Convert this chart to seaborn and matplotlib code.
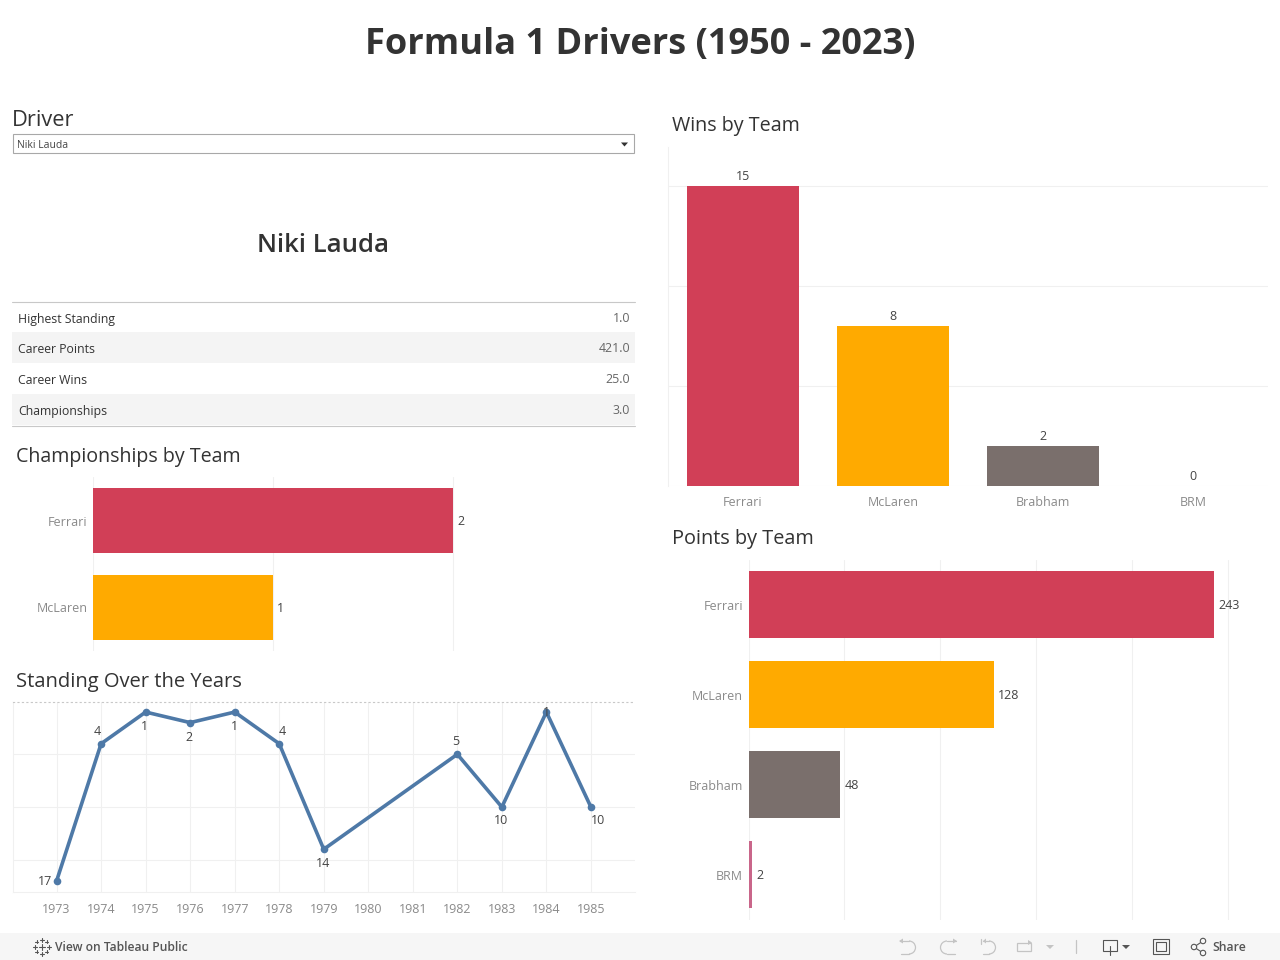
# Formula 1 drivers dashboard, one driver selected
import matplotlib
matplotlib.use('Agg')
import matplotlib.pyplot as plt
from matplotlib.patches import Rectangle, Circle, Polygon, Arc
import seaborn as sns
import pandas as pd

# data
teams = ['Ferrari', 'McLaren', 'Brabham', 'BRM']
wins = [15, 8, 2, 0]
points = [243, 128, 48, 2]
champ_teams = ['Ferrari', 'McLaren']
champs = [2, 1]
years = [1973, 1974, 1975, 1976, 1977, 1978, 1979, 1982, 1983, 1984, 1985]
standing = [17, 4, 1, 2, 1, 4, 14, 5, 10, 1, 10]
all_years = list(range(1973, 1986))
stat_names = ['Highest Standing', 'Career Points', 'Career Wins', 'Championships']
stat_values = ['1.0', '421.0', '25.0', '3.0']
driver = 'Niki Lauda'

team_colors = {'Ferrari': '#d13f57', 'McLaren': '#ffaa00', 'Brabham': '#7a6f6c', 'BRM': '#c9668a'}
GRID = '#f0f0f0'
DARK = '#333333'
LABEL = '#444444'
TICK = '#8a8a8a'

sns.set_theme(style='white')
plt.rcParams['font.family'] = ['Open Sans', 'DejaVu Sans']
plt.rcParams['axes.linewidth'] = 0.8

fig = plt.figure(figsize=(12.8, 9.6), dpi=100)


def px_axes(left, top, right, bottom):
    # axes placed by pixel box of the 1280x960 canvas
    return fig.add_axes([left / 1280, 1 - bottom / 960, (right - left) / 1280, (bottom - top) / 960])


def clean(ax):
    for s in ax.spines.values():
        s.set_visible(False)
    ax.set_xlabel('')
    ax.set_ylabel('')
    ax.tick_params(length=0)
    ax.set_axisbelow(True)


# overlay for the page furniture, pixel coordinates
bg = fig.add_axes([0, 0, 1, 1], zorder=0)
bg.set_xlim(0, 1280)
bg.set_ylim(960, 0)
bg.axis('off')

bg.text(640, 45, 'Formula 1 Drivers (1950 - 2023)', ha='center', va='center',
        fontsize=26, fontweight='bold', color=DARK)
bg.text(12, 121, 'Driver', ha='left', va='center', fontsize=15.7, color=DARK)
bg.add_patch(Rectangle((13, 134), 620.5, 19, fc='white', ec='#a8a8a8', lw=0.8))
bg.text(17, 145, driver, ha='left', va='center', fontsize=7.5, color=LABEL)
bg.add_patch(Polygon([(621, 142.5), (628, 142.5), (624.5, 146.5)], fc='#333333', ec='none'))
bg.text(323, 246, driver, ha='center', va='center', fontsize=18.5, fontweight='semibold', color=DARK)

# stats table
row_tops = [302, 332, 363, 394]
row_h = 31
for i, name in enumerate(stat_names):
    if i % 2 == 1:
        bg.add_patch(Rectangle((12, row_tops[i]), 623, row_h, fc='#f4f4f4', ec='none'))
    bg.text(18, row_tops[i] + 21, name, ha='left', va='baseline', fontsize=8.8, color=DARK)
    bg.text(630, row_tops[i] + 20, stat_values[i], ha='right', va='baseline', fontsize=8.9, color='#666666')
bg.plot([12, 635], [301.5, 301.5], color='#c8c8c8', lw=0.8)
bg.plot([12, 635], [425.5, 425.5], color='#c8c8c8', lw=0.8)

for x, y, t, fs in [(16, 457, 'Championships by Team', 14.1), (16, 682, 'Standing Over the Years', 14.5),
                    (672, 126, 'Wins by Team', 14.2), (672, 539, 'Points by Team', 14.3)]:
    bg.text(x, y, t, ha='left', va='center', fontsize=fs, color=DARK)

# footer band with toolbar
bg.add_patch(Rectangle((0, 933), 1280, 27, fc='#f6f6f6', ec='none'))
bg.text(55, 947.5, 'View on Tableau Public', ha='left', va='center', fontsize=8.7,
        fontweight='semibold', color='#555555')
bg.text(1212, 947.5, 'Share', ha='left', va='center', fontsize=8.8, fontweight='semibold', color='#555555')
# tableau logo: small crosses
for cx, cy, r in [(41.5, 946.5, 3), (41.5, 939.5, 2), (41.5, 953.5, 2), (34.5, 946.5, 2), (48.5, 946.5, 2),
                  (36.5, 941.5, 1.5), (46.5, 941.5, 1.5), (36.5, 951.5, 1.5), (46.5, 951.5, 1.5)]:
    bg.plot([cx - r, cx + r], [cy, cy], color='#555555', lw=0.8)
    bg.plot([cx, cx], [cy - r, cy + r], color='#555555', lw=0.8)
undo = '#c4c4c4'
# undo, redo, revert, refresh
bg.plot([900, 909], [941, 941], color=undo, lw=0.9)
bg.plot([909, 901], [954, 954], color=undo, lw=0.9)
bg.add_patch(Arc((909, 947.5), 13, 13, theta1=-90, theta2=90, ec=undo, lw=0.9))
bg.add_patch(Polygon([(899, 941), (903, 938.5), (903, 943.5)], fc=undo, ec='none'))
bg.plot([956, 947], [941, 941], color=undo, lw=0.9)
bg.plot([947, 955], [954, 954], color=undo, lw=0.9)
bg.add_patch(Arc((947, 947.5), 13, 13, theta1=90, theta2=270, ec=undo, lw=0.9))
bg.add_patch(Polygon([(957, 941), (953, 938.5), (953, 943.5)], fc=undo, ec='none'))
bg.plot([981, 981], [939, 944], color=undo, lw=0.9)
bg.plot([983, 989], [941, 941], color=undo, lw=0.9)
bg.plot([989, 983], [954, 954], color=undo, lw=0.9)
bg.add_patch(Arc((989, 947.5), 13, 13, theta1=-90, theta2=90, ec=undo, lw=0.9))
bg.add_patch(Polygon([(983, 941), (986, 938.5), (986, 943.5)], fc=undo, ec='none'))
bg.add_patch(Rectangle((1016.5, 942.5), 14, 8, fc='none', ec=undo, lw=0.9))
bg.add_patch(Polygon([(1032, 942.5), (1028, 940), (1028, 945)], fc=undo, ec='none'))
bg.add_patch(Polygon([(1046, 945), (1054, 945), (1050, 949)], fc=undo, ec='none'))
bg.plot([1075.5, 1075.5], [940, 953], color=undo, lw=0.9)
bg.add_patch(Rectangle((1102.5, 939.5), 14, 11, fc='none', ec='#555555', lw=0.8))
bg.plot([1109.5, 1109.5], [946, 955], color='#555555', lw=0.8)
bg.add_patch(Polygon([(1122, 945), (1130, 945), (1126, 949)], fc='#555555', ec='none'))
bg.add_patch(Rectangle((1153, 939), 16, 15, fc='none', ec='#555555', lw=0.8))
bg.add_patch(Rectangle((1156, 942), 10, 9, fc='none', ec='#555555', lw=0.8))
for cx, cy in [(1194, 947), (1203, 941), (1203, 953)]:
    bg.add_patch(Circle((cx, cy), 2.7, fc='#f6f6f6', ec='#555555', lw=0.8, zorder=3))
bg.plot([1203, 1194, 1203], [941, 947, 953], color='#555555', lw=0.8, zorder=2)

# wins by team
wins_df = pd.DataFrame({'team': teams, 'wins': wins})
ax = px_axes(668, 147.5, 1268, 486.5)
ax.patch.set_alpha(0)
sns.barplot(data=wins_df, x='team', y='wins', hue='team', palette=team_colors, width=0.75,
            legend=False, saturation=1, linewidth=0, ax=ax)
ax.set_ylim(0, 16.95)
ax.set_xlim(-0.5, 3.5)
ax.set_yticks([0, 5, 10, 15])
ax.set_yticklabels([])
ax.yaxis.grid(True, color=GRID, lw=0.8)
clean(ax)
ax.spines['left'].set_visible(True)
ax.spines['left'].set_color(GRID)
ax.tick_params(axis='x', labelsize=9, labelcolor=TICK, pad=6.5)
for i, v in enumerate(wins):
    ax.annotate(str(v), (i, v), xytext=(0, 2.5), textcoords='offset points', ha='center', va='bottom',
                fontsize=9, color=LABEL)

# points by team
points_df = pd.DataFrame({'team': teams, 'points': points})
ax = px_axes(748.5, 559.5, 1268, 919.5)
ax.patch.set_alpha(0)
sns.barplot(data=points_df, y='team', x='points', hue='team', palette=team_colors, width=0.75,
            legend=False, saturation=1, linewidth=0, ax=ax)
ax.set_xlim(0, 271.1)
ax.set_ylim(3.5, -0.5)
ax.set_xticks([0, 50, 100, 150, 200, 250])
ax.set_xticklabels([])
ax.xaxis.grid(True, color=GRID, lw=0.8)
clean(ax)
ax.tick_params(axis='y', labelsize=9, labelcolor=TICK, pad=4)
for i, v in enumerate(points):
    ax.annotate(str(v), (v, i), xytext=(3, -1), textcoords='offset points', ha='left', va='center',
                fontsize=9, color=LABEL)

# championships by team
champ_df = pd.DataFrame({'team': champ_teams, 'champs': champs})
ax = px_axes(93, 477, 635, 651)
ax.patch.set_alpha(0)
sns.barplot(data=champ_df, y='team', x='champs', hue='team', palette=team_colors, width=0.75,
            legend=False, saturation=1, linewidth=0, ax=ax)
ax.set_xlim(0, 3.01)
ax.set_ylim(1.5, -0.5)
ax.set_xticks([0, 1, 2])
ax.set_xticklabels([])
ax.xaxis.grid(True, color=GRID, lw=0.8)
clean(ax)
ax.tick_params(axis='y', labelsize=9, labelcolor=TICK, pad=4)
for i, v in enumerate(champs):
    ax.annotate(str(v), (v, i), xytext=(3, -1), textcoords='offset points', ha='left', va='center',
                fontsize=9, color=LABEL)

# standing over the years
line_df = pd.DataFrame({'year': years, 'standing': standing})
ax = px_axes(12.5, 701.5, 635, 891.5)
ax.patch.set_alpha(0)
ax.set_xticks(all_years)
ax.set_yticks([5, 10, 15])
ax.grid(True, color=GRID, lw=0.8)
sns.lineplot(data=line_df, x='year', y='standing', color='#4e79a7', lw=2.6, marker='o', markersize=5.5,
             markeredgewidth=0, ax=ax)
ax.set_xlim(1972.01, 1985.99)
ax.set_ylim(18, 0)
ax.set_yticklabels([])
ax.set_xticklabels([str(y) for y in all_years])
clean(ax)
ax.spines['top'].set_visible(True)
ax.spines['top'].set_linestyle((0, (1, 3)))
ax.spines['top'].set_color('#c8c8c8')
ax.spines['left'].set_visible(True)
ax.spines['left'].set_color(GRID)
ax.spines['bottom'].set_visible(True)
ax.spines['bottom'].set_color(GRID)
ax.tick_params(axis='x', labelsize=9, labelcolor=TICK, pad=8)
# label offsets per point, in points
offsets = [(-8, -0.5), (-3, 8.5), (-0.5, -10.5), (-0.5, -10.5), (-0.5, -10.5), (2, 8.5), (-0.5, -10),
           (-1, 9), (-0.5, -10), (0, -0.5), (5, -10)]
for y, s, off in zip(years, standing, offsets):
    ax.annotate(str(s), (y, s), xytext=off, textcoords='offset points', ha='center', va='center',
                fontsize=9, color=LABEL)

fig.savefig('out.png', dpi=100)
